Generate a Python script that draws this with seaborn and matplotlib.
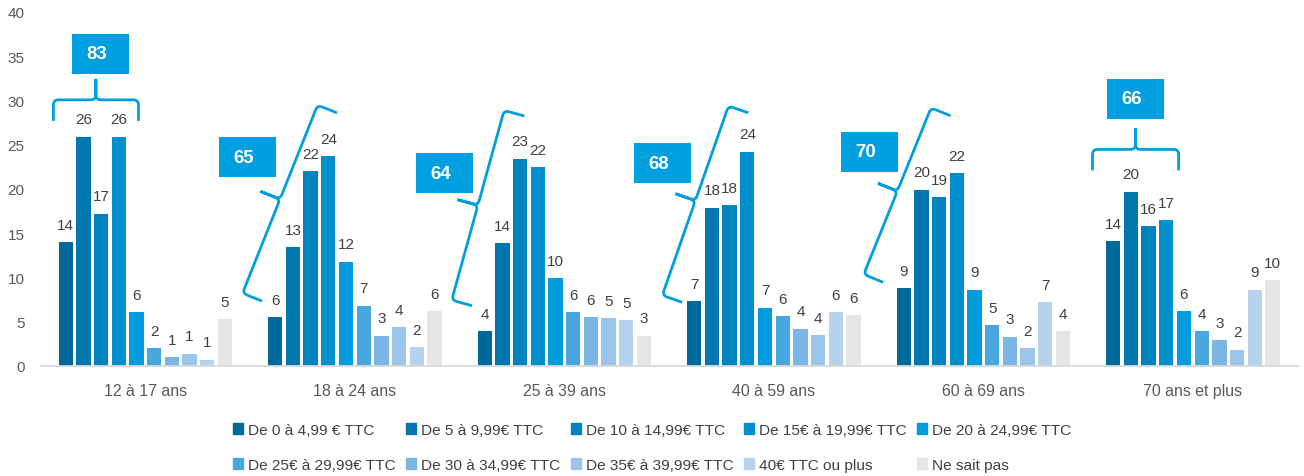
import numpy as np
import pandas as pd
import matplotlib
matplotlib.use("Agg")
import matplotlib.pyplot as plt
import seaborn as sns
from matplotlib.path import Path
from matplotlib.patches import PathPatch, Rectangle
from matplotlib.transforms import IdentityTransform

# ---------------- data ----------------
categories = ["12 à 17 ans", "18 à 24 ans", "25 à 39 ans",
              "40 à 59 ans", "60 à 69 ans", "70 ans et plus"]

series_names = ["De 0 à 4,99 € TTC", "De 5 à 9,99€ TTC", "De 10 à 14,99€ TTC",
                "De 15€ à 19,99€ TTC", "De 20 à 24,99€ TTC", "De 25€ à 29,99€ TTC",
                "De 30 à 34,99€ TTC", "De 35€ à 39,99€ TTC", "40€ TTC ou plus",
                "Ne sait pas"]

s0 = [14.0, 5.5, 3.9, 7.3, 8.8, 14.1]
s1 = [25.9, 13.4, 13.9, 17.9, 19.9, 19.7]
s2 = [17.2, 22.0, 23.4, 18.2, 19.1, 15.8]
s3 = [25.9, 23.7, 22.45, 24.2, 21.8, 16.5]
s4 = [6.1, 11.8, 9.9, 6.6, 8.6, 6.2]
s5 = [2.0, 6.8, 6.1, 5.65, 4.6, 3.9]
s6 = [1.0, 3.4, 5.5, 4.2, 3.3, 2.9]
s7 = [1.4, 4.4, 5.4, 3.5, 2.0, 1.85]
s8 = [0.7, 2.1, 5.2, 6.1, 7.2, 8.6]
s9 = [5.3, 6.2, 3.4, 5.75, 3.95, 9.7]

# ---------------- style / layout ----------------
colors = ["#00699A", "#0077AF", "#0083BF", "#008ECD", "#009CDD",
          "#49A7E0", "#7BB5E4", "#9CC5EB", "#B6D3EE", "#E5E5E5"]
ACCENT = "#009FDF"
TEXT = "#404040"
TICK = "#595959"

# annotation geometry (offset from category centre, y in data units)
BRACE_LAYOUT = [(-0.439, 27.7, -0.033, 27.7),
                (-0.443, 7.34, -0.085, 28.6),
                (-0.441, 6.81, -0.191, 28.25),
                (-0.438, 7.20, -0.122, 28.6),
                (-0.478, 9.46, -0.157, 28.28),
                (-0.479, 22.1, -0.068, 22.1)]
BOX_LAYOUT = [(-0.213, 35.3), (-0.512, 23.6), (-0.571, 21.8),
              (-0.532, 22.9), (-0.545, 24.2), (-0.274, 30.2)]

sns.set_theme(style="white")
plt.rcParams["font.family"] = ["Liberation Sans", "DejaVu Sans"]

values = [s0, s1, s2, s3, s4, s5, s6, s7, s8, s9]
rows = []
for si, name in enumerate(series_names):
    for ci, cat in enumerate(categories):
        rows.append({"cat": cat, "series": name, "value": values[si][ci]})
df = pd.DataFrame(rows)

W, H = 1304, 477
fig = plt.figure(figsize=(W / 100, H / 100), dpi=100)
ax = fig.add_axes([40.6 / W, 110 / H, 1257 / W, 354 / H])

sns.barplot(data=df, x="cat", y="value", hue="series", order=categories,
            hue_order=series_names, palette=colors, width=0.845, gap=0.19,
            saturation=1, errorbar=None, linewidth=0, ax=ax, legend=False)

for si, cont in enumerate(ax.containers):
    labels = [str(int(v + 0.5)) for v in values[si]]
    ax.bar_label(cont, labels=labels, padding=7.5, fontsize=11, color=TEXT)

ax.set_xlim(-0.5, len(categories) - 0.5)
ax.set_ylim(0, 40)
ax.set_yticks(range(0, 41, 5))
ax.set_xlabel("")
ax.set_ylabel("")
ax.grid(False)
for side in ["left", "top", "right"]:
    ax.spines[side].set_visible(False)
ax.spines["bottom"].set_color("#D9D9D9")
ax.spines["bottom"].set_linewidth(1.3)
ax.tick_params(axis="y", length=0, pad=11.5, labelsize=11, labelcolor=TICK)
ax.tick_params(axis="x", length=0, pad=12, labelsize=11.4, labelcolor=TICK)

# legend (row-major order)
handles = [Rectangle((0, 0), 1, 1, color=c) for c in colors]
order = [0, 5, 1, 6, 2, 7, 3, 8, 4, 9]
fig.legend([handles[i] for i in order], [series_names[i] for i in order],
           ncol=5, loc="upper left", bbox_to_anchor=(233 / W, (H - 424) / H),
           frameon=False, fontsize=11.1, handlelength=0.65, handleheight=0.65,
           handletextpad=0.35, columnspacing=0.65, labelspacing=1.35,
           borderpad=0, borderaxespad=0, labelcolor=TEXT)


def brace_path(p0, p1, d1=21.0, d2=21.0, r=5.0):
    p0 = np.asarray(p0, float)
    p1 = np.asarray(p1, float)
    v = p1 - p0
    t = v / np.hypot(*v)
    n = np.array([-t[1], t[0]])
    B = p0 + n * d1
    E = p1 + n * d1
    C = (B + E) / 2
    D = C + n * d2
    verts = [p0, B - n * r, B, B + t * r, C - t * r, C, C + n * r, D,
             D, C + n * r, C, C + t * r, E - t * r, E, E - n * r, p1]
    codes = [Path.MOVETO, Path.LINETO, Path.CURVE3, Path.CURVE3, Path.LINETO,
             Path.CURVE3, Path.CURVE3, Path.LINETO,
             Path.MOVETO, Path.LINETO, Path.CURVE3, Path.CURVE3, Path.LINETO,
             Path.CURVE3, Path.CURVE3, Path.LINETO]
    return Path(verts, codes)


ident = IdentityTransform()
for g, cat in enumerate(categories):
    x0, y0, x1, y1 = BRACE_LAYOUT[g]
    p0 = ax.transData.transform((g + x0, y0))
    p1 = ax.transData.transform((g + x1, y1))
    fig.add_artist(PathPatch(brace_path(p0, p1), fill=False, edgecolor=ACCENT,
                             linewidth=2.0, transform=ident,
                             capstyle="butt", joinstyle="round"))
    bx, by = BOX_LAYOUT[g]
    cx, cy = ax.transData.transform((g + bx, by))
    fig.add_artist(Rectangle((cx - 28.5, cy - 20), 57, 40, facecolor=ACCENT,
                             edgecolor="none", transform=ident))
    total = s0[g] + s1[g] + s2[g] + s3[g]
    fig.text(cx - 4, cy, str(int(total + 0.5)), transform=ident, ha="center",
             va="center", color="white", fontsize=13.4, fontweight="bold")

fig.savefig("out.png", dpi=100)
